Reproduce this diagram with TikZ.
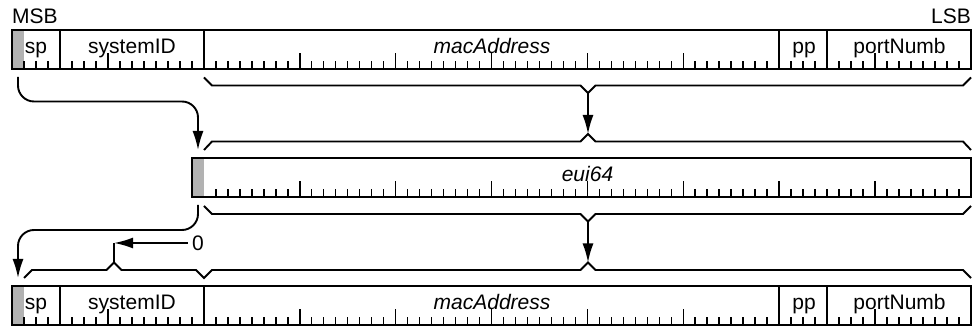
\documentclass[tikz,border=0pt]{standalone}
\usepackage{fontspec}
\setmainfont{Liberation Sans}
\usetikzlibrary{arrows.meta}
\begin{document}
\begin{tikzpicture}[x=1pt,y=-1pt,
  regbox/.style={draw,line width=2pt,minimum width=959pt,minimum height=39pt,anchor=north west,inner sep=0pt,outer sep=0pt},
  gbit/.style={fill=black!30,draw=none,minimum width=12pt,minimum height=39pt,anchor=north west,inner sep=0pt,outer sep=0pt},
  divline/.style={line width=1.7pt},
  tickline/.style={line width=1.6pt},
  bracepath/.style={line width=1.9pt,line join=miter},
  conn/.style={line width=1.9pt,-{Latex[length=19pt,width=11pt]}},
  lbl/.style={font=\fontsize{21}{25}\selectfont,inner sep=0pt,anchor=base},
]
\useasboundingbox (0,0) rectangle (972,328);
\def\bw{11.9875}

% ---------- top register ----------
\node[gbit] (gtop) at (12,30) {};
\foreach \i in {1,...,79}{
  \pgfmathsetmacro\xx{12+\i*\bw}
  \pgfmathtruncatemacro\m{mod(\i,8)}
  \ifnum\m=0
    \draw[tickline] (\xx,69) -- (\xx,53);
  \else
    \draw[tickline] (\xx,69) -- (\xx,61);
  \fi
}
\node[regbox] (rtop) at (12,30) {};
\foreach \i in {4,16,64,68}{
  \pgfmathsetmacro\xx{12+\i*\bw}
  \draw[divline] (\xx,30) -- (\xx,69);
}
\node[lbl] (spA) at (36,54) {sp};
\node[lbl] (sysA) at (132,54) {systemID};
\node[lbl] (macA) at (492,54) {\itshape macAddress};
\node[lbl] (ppA) at (804,54) {pp};
\node[lbl] (pnA) at (899.5,54) {portNumb};
\node[lbl,anchor=base west] (msb) at (12,24) {MSB};
\node[lbl,anchor=base east] (lsb) at (971,24) {LSB};

% brace under top register
\draw[bracepath] (204,77.5) -- (212,85.5) -- (580.5,85.5) -- (588,93) -- (595.5,85.5) -- (963,85.5) -- (971,77.5);
\coordinate (brA) at (588,93);

% ---------- eui64 register ----------
\draw[bracepath] (204,150) -- (212,141.5) -- (580.5,141.5) -- (588,134) -- (595.5,141.5) -- (963,141.5) -- (971,150);
\coordinate (brB) at (588,134);
\coordinate (gin) at (198,150);

\node[gbit] (geui) at (192,158) {};
\foreach \i in {17,...,79}{
  \pgfmathsetmacro\xx{12+\i*\bw}
  \pgfmathtruncatemacro\m{mod(\i,8)}
  \ifnum\m=0
    \draw[tickline] (\xx,197) -- (\xx,181);
  \else
    \draw[tickline] (\xx,197) -- (\xx,189);
  \fi
}
\node[regbox,minimum width=779pt] (reui) at (192,158) {};
\node[lbl] (euiL) at (587.5,182) {\itshape eui64};

\draw[bracepath] (204,206) -- (212,214) -- (580.5,214) -- (588,221.5) -- (595.5,214) -- (963,214) -- (971,206);
\coordinate (brC) at (588,221.5);
\coordinate (gout) at (198,205);

% ---------- bottom braces ----------
\draw[bracepath] (24,278) -- (32,270) -- (106.5,270) -- (114,262.5) -- (121.5,270) -- (196,270) -- (204,278)
  -- (212,270) -- (580.5,270) -- (588,262.5) -- (595.5,270) -- (963,270) -- (971,278);
\coordinate (brD) at (114,262.5);
\coordinate (brE) at (588,262.5);
\coordinate (gtgt) at (18,278);
\coordinate (zc) at (114,243);
\node[lbl,anchor=center,inner sep=4pt] (zero) at (198,243) {0};

% ---------- bottom register ----------
\node[gbit] (gbot) at (12,286) {};
\foreach \i in {1,...,79}{
  \pgfmathsetmacro\xx{12+\i*\bw}
  \pgfmathtruncatemacro\m{mod(\i,8)}
  \ifnum\m=0
    \draw[tickline] (\xx,325) -- (\xx,309);
  \else
    \draw[tickline] (\xx,325) -- (\xx,317);
  \fi
}
\node[regbox] (rbot) at (12,286) {};
\foreach \i in {4,16,64,68}{
  \pgfmathsetmacro\xx{12+\i*\bw}
  \draw[divline] (\xx,286) -- (\xx,325);
}
\node[lbl] (spB) at (36,310) {sp};
\node[lbl] (sysB) at (132,310) {systemID};
\node[lbl] (macB) at (492,310) {\itshape macAddress};
\node[lbl] (ppB) at (804,310) {pp};
\node[lbl] (pnB) at (899.5,310) {portNumb};

% ---------- connectors ----------
\coordinate (gsrc) at (18,77);
\draw[conn,rounded corners=16pt] (gsrc) -- (18,101.5) -- (198,101.5) -- (gin);
\draw[conn] (brA) -- (brB);
\draw[conn] (brC) -- (brE);
\draw[conn,rounded corners=16pt] (gout) -- (198,230) -- (18,230) -- (gtgt);
\draw[conn] (zero.west) -- (zc);
\draw[line width=1.9pt] (zc) -- (brD);
\end{tikzpicture}
\end{document}
